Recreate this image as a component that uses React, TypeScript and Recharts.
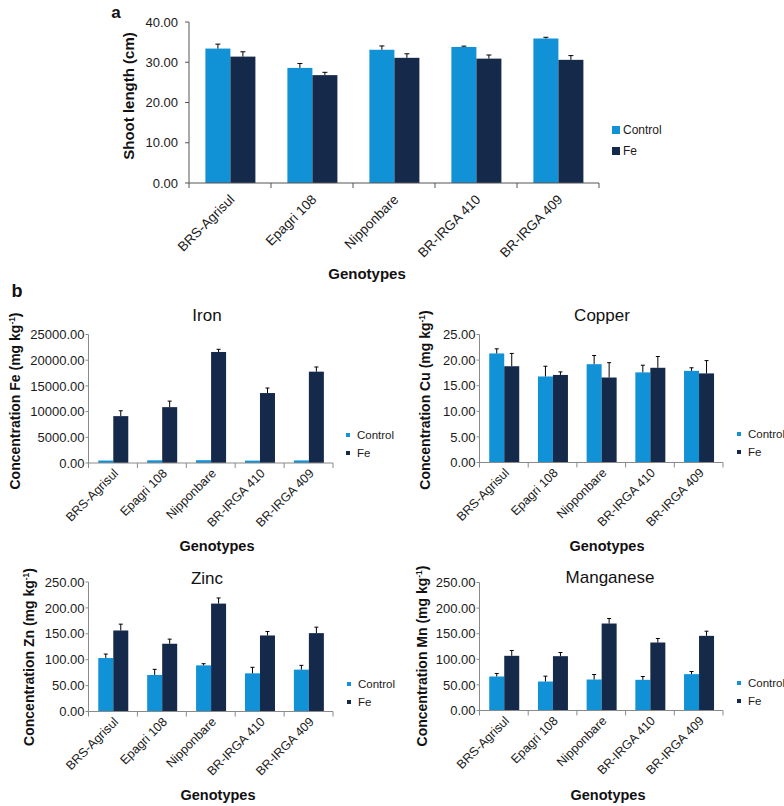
import React from 'react';
import { BarChart, Bar, XAxis, YAxis, Legend } from 'recharts';

// genotypes on the x axis of every panel
const genotypes = ['BRS-Agrisul', 'Epagri 108', 'Nipponbare', 'BR-IRGA 410', 'BR-IRGA 409'];

// a - shoot length (cm)
const shootControl = [33.4, 28.6, 33.1, 33.8, 35.9];
const shootControlErr = [1.1, 1.1, 0.95, 0.2, 0.3];
const shootFe = [31.4, 26.8, 31.1, 30.9, 30.6];
const shootFeErr = [1.2, 0.7, 1.0, 0.9, 1.05];

// b - iron (mg kg-1)
const ironControl = [480, 520, 540, 460, 500];
const ironControlErr = [40, 50, 40, 30, 40];
const ironFe = [9120, 10870, 21600, 13610, 17770];
const ironFeErr = [1040, 1170, 520, 980, 910];

// b - copper
const copperControl = [21.3, 16.8, 19.2, 17.6, 17.9];
const copperControlErr = [0.9, 2.0, 1.7, 1.4, 0.6];
const copperFe = [18.8, 17.1, 16.6, 18.5, 17.4];
const copperFeErr = [2.5, 0.6, 2.9, 2.2, 2.5];

// b - zinc
const zincControl = [103.2, 70.5, 89.1, 73.7, 80.8];
const zincControlErr = [7.7, 10.9, 3.2, 11.6, 8.3];
const zincFe = [156.4, 130.8, 208.3, 146.8, 151.3];
const zincFeErr = [12.2, 8.9, 10.9, 7.7, 11.5];

// b - manganese
const mnControl = [66.4, 56.6, 60.5, 59.9, 71.0];
const mnControlErr = [5.9, 10.5, 9.8, 6.5, 5.2];
const mnFe = [106.8, 106.1, 169.9, 132.8, 145.8];
const mnFeErr = [10.4, 7.2, 9.8, 7.8, 9.1];

const shootTicks = [0, 10, 20, 30, 40];
const ironTicks = [0, 5000, 10000, 15000, 20000, 25000];
const copperTicks = [0, 5, 10, 15, 20, 25];
const zincTicks = [0, 50, 100, 150, 200, 250];
const mnTicks = [0, 50, 100, 150, 200, 250];

const CONTROL = '#1191d6';
const FE = '#152a4b';
const FONT = '"Liberation Sans", Arial, Helvetica, sans-serif';

const rows = (c: number[], ce: number[], f: number[], fe: number[]) =>
  genotypes.map((name, i) => ({ name, control: c[i], controlErr: ce[i], fe: f[i], feErr: fe[i] }));

// bar plus a plus-only error whisker (cap on top only, like the original)
const barWithError = (errKey: string, cap: number) => (props: any) => {
  const { x, y, width, height, fill, payload, value } = props;
  const v = Array.isArray(value) ? value[1] - value[0] : value;
  const err = payload?.[errKey] || 0;
  const k = v ? height / v : 0;
  const top = y - err * k;
  const cx = x + width / 2;
  return (
    <g>
      <rect x={x} y={y} width={width} height={height} fill={fill} />
      {err * k > 0.8 && (
        <g stroke="#000" strokeWidth={1}>
          <line x1={cx} y1={y} x2={cx} y2={top} />
          <line x1={cx - cap} y1={top} x2={cx + cap} y2={top} />
        </g>
      )}
    </g>
  );
};

const CategoryTick = (props: any) => {
  const { payload, index, visibleTicksCount, offX, offY, fs, axCol, band } = props;
  const x = Number(props.x);
  const y = Number(props.y);
  const last = index === (visibleTicksCount || 5) - 1;
  const tx = x + offX;
  const ty = y + offY;
  return (
    <g>
      <line x1={x - band / 2} y1={y} x2={x - band / 2} y2={y + 5} stroke={axCol} />
      {last && <line x1={x + band / 2} y1={y} x2={x + band / 2} y2={y + 5} stroke={axCol} />}
      <text
        x={tx}
        y={ty}
        transform={`rotate(-45 ${tx} ${ty})`}
        textAnchor="end"
        dy="0.35em"
        fontSize={fs}
        fontFamily={FONT}
        fill="#1a1a1a"
      >
        {payload.value}
      </text>
    </g>
  );
};

const makeLegend = (swatch: number, gap: number, fontSize: number, rowH: number) => (props: any) => (
  <div style={{ fontFamily: FONT, color: '#1a1a1a' }}>
    {(props.payload || []).map((p: any) => (
      <div key={p.value} style={{ display: 'flex', alignItems: 'center', height: rowH, fontSize, whiteSpace: 'nowrap' }}>
        <span style={{ display: 'inline-block', width: swatch, height: swatch, background: p.color, marginRight: gap }} />
        {p.value}
      </div>
    ))}
  </div>
);

type PanelCfg = {
  left: number; top: number; w: number; h: number;
  x0: number; x1: number; y0: number; y1: number;
  data: any[]; ticks: number[];
  tickFs: number; tickSize: number; tickMargin: number; axCol: string;
  xFs: number; offX: number; offY: number; cap: number;
  legX: number; legY: number; swatch: number; gap: number; legFs: number; rowH: number;
};

const Panel = ({ c }: { c: PanelCfg }) => {
  const margin = {
    top: c.y0 - c.top,
    bottom: c.top + c.h - c.y1 - 30,
    left: c.x0 - c.left - 60,
    right: c.left + c.w - c.x1,
  };
  const band = (c.x1 - c.x0) / genotypes.length;
  const max = c.ticks[c.ticks.length - 1];
  return (
    <div style={{ position: 'absolute', left: c.left, top: c.top }}>
      <BarChart width={c.w} height={c.h} data={c.data} margin={margin} barCategoryGap="20%" barGap={0}>
        <XAxis
          dataKey="name"
          interval={0}
          height={30}
          tickLine={false}
          tickSize={0}
          tickMargin={0}
          axisLine={{ stroke: c.axCol }}
          tick={<CategoryTick offX={c.offX} offY={c.offY} fs={c.xFs} axCol={c.axCol} band={band} />}
        />
        <YAxis
          width={60}
          domain={[0, max]}
          ticks={c.ticks}
          interval={0}
          tickFormatter={(v: number) => v.toFixed(2)}
          tick={{ fontSize: c.tickFs, fill: '#1a1a1a', fontFamily: FONT }}
          tickSize={c.tickSize}
          tickMargin={c.tickMargin}
          axisLine={{ stroke: c.axCol }}
          tickLine={{ stroke: c.axCol }}
        />
        <Legend
          layout="vertical"
          align="center"
          verticalAlign="middle"
          content={makeLegend(c.swatch, c.gap, c.legFs, c.rowH)}
          wrapperStyle={{ left: c.legX - c.left, top: c.legY - c.top, width: 'auto', height: 'auto' }}
        />
        <Bar dataKey="control" name="Control" fill={CONTROL} isAnimationActive={false} shape={barWithError('controlErr', c.cap)} />
        <Bar dataKey="fe" name="Fe" fill={FE} isAnimationActive={false} shape={barWithError('feErr', c.cap)} />
      </BarChart>
    </div>
  );
};

const bCommon = {
  tickFs: 13, tickSize: 3, tickMargin: 1, axCol: '#8a8a8a',
  xFs: 12.5, offX: 3, offY: 8, cap: 2,
  swatch: 4, gap: 7, legFs: 11.5, rowH: 18,
};

const panels: PanelCfg[] = [
  {
    left: 0, top: 0, w: 784, h: 290, x0: 189, x1: 599, y0: 22, y1: 183,
    data: rows(shootControl, shootControlErr, shootFe, shootFeErr), ticks: shootTicks,
    tickFs: 13, tickSize: 4, tickMargin: 7, axCol: '#555555',
    xFs: 13.5, offX: 2, offY: 14, cap: 2.5,
    legX: 612, legY: 119.5, swatch: 8, gap: 3, legFs: 12, rowH: 21,
  },
  {
    ...bCommon, left: 0, top: 280, w: 392, h: 280, x0: 88.5, x1: 333, y0: 334.5, y1: 463,
    data: rows(ironControl, ironControlErr, ironFe, ironFeErr), ticks: ironTicks,
    legX: 346, legY: 426,
  },
  {
    ...bCommon, left: 392, top: 280, w: 392, h: 280, x0: 479.5, x1: 723, y0: 334.5, y1: 462.5,
    data: rows(copperControl, copperControlErr, copperFe, copperFeErr), ticks: copperTicks,
    legX: 737, legY: 425,
  },
  {
    ...bCommon, left: 0, top: 560, w: 392, h: 246, x0: 88.5, x1: 333, y0: 582, y1: 711.5,
    data: rows(zincControl, zincControlErr, zincFe, zincFeErr), ticks: zincTicks,
    legX: 347, legY: 675,
  },
  {
    ...bCommon, left: 392, top: 560, w: 392, h: 246, x0: 479.5, x1: 723, y0: 582.5, y1: 710.5,
    data: rows(mnControl, mnControlErr, mnFe, mnFeErr), ticks: mnTicks,
    legX: 737, legY: 674,
  },
];

const txt = (x: number, y: number, size: number, bold: boolean, rotate = false): React.CSSProperties => ({
  position: 'absolute',
  left: x,
  top: y,
  transform: `translate(-50%, -50%)${rotate ? ' rotate(-90deg)' : ''}`,
  fontSize: size,
  fontWeight: bold ? 'bold' : 'normal',
  whiteSpace: 'nowrap',
  lineHeight: 1,
  color: '#111',
  fontFamily: FONT,
});

const conc = (el: string) => (
  <>
    Concentration {el} (mg kg<sup style={{ fontSize: '0.6em', verticalAlign: '0.6em' }}>-1</sup>)
  </>
);

export default function App() {
  return (
    <div style={{ position: 'absolute', left: 0, top: 0, width: 784, height: 806, background: '#fff', fontFamily: FONT }}>
      {panels.map((p, i) => (
        <Panel key={i} c={p} />
      ))}
      <div style={txt(116, 12, 17, true)}>a</div>
      <div style={txt(17, 291, 18, true)}>b</div>
      <div style={txt(128, 96, 15, true, true)}>Shoot length (cm)</div>
      <div style={txt(367, 273, 15, true)}>Genotypes</div>

      <div style={txt(207, 315, 17, false)}>Iron</div>
      <div style={txt(602, 315, 17, false)}>Copper</div>
      <div style={txt(207, 578, 17, false)}>Zinc</div>
      <div style={txt(610, 577, 17, false)}>Manganese</div>

      <div style={txt(15, 401, 14, true, true)}>{conc('Fe')}</div>
      <div style={txt(425, 400, 14, true, true)}>{conc('Cu')}</div>
      <div style={txt(29, 657, 14, true, true)}>{conc('Zn')}</div>
      <div style={txt(422, 656, 14, true, true)}>{conc('Mn')}</div>

      <div style={txt(217, 546, 14.5, true)}>Genotypes</div>
      <div style={txt(607, 546, 14.5, true)}>Genotypes</div>
      <div style={txt(218, 795, 14.5, true)}>Genotypes</div>
      <div style={txt(608, 795, 14.5, true)}>Genotypes</div>
    </div>
  );
}
